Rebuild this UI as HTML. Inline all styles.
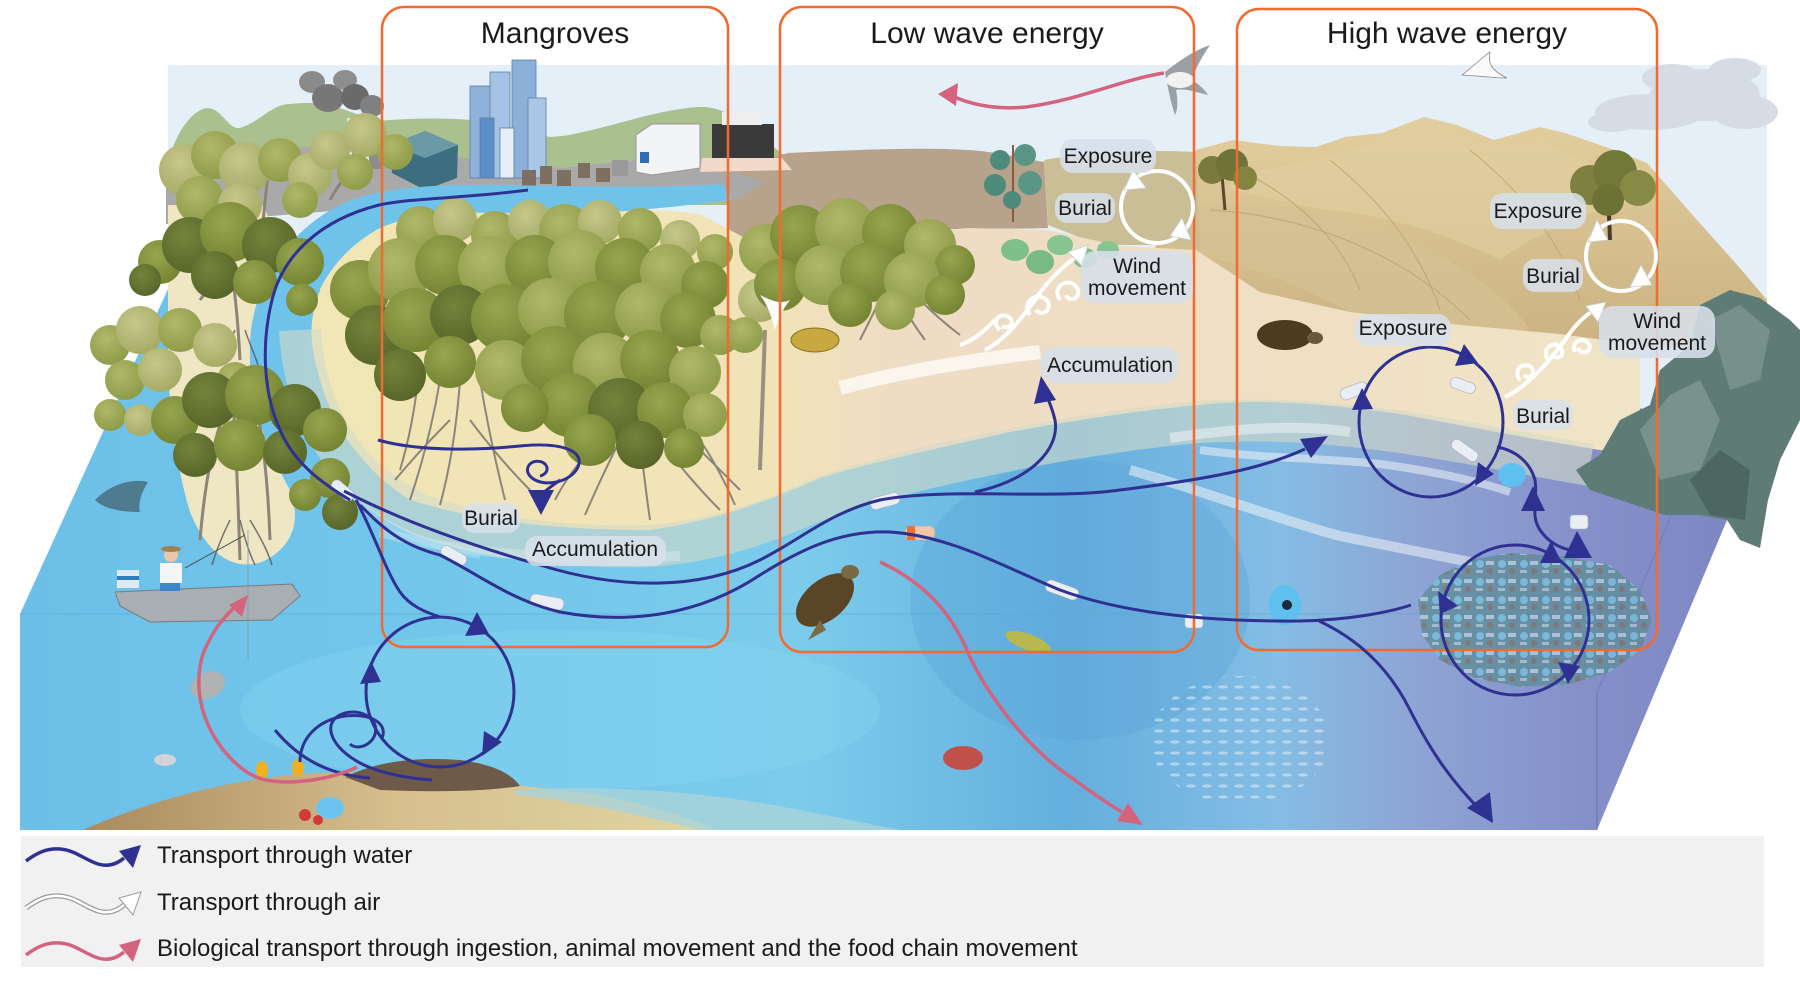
<!DOCTYPE html>
<html><head><meta charset="utf-8">
<style>
html,body{margin:0;padding:0;background:#fff;}
svg{display:block;}
text{font-family:"Liberation Sans",Arial,sans-serif;fill:#1a1a1a;}
</style></head><body>
<svg width="1800" height="986" viewBox="0 0 1800 986" xmlns="http://www.w3.org/2000/svg">
<defs>
 <linearGradient id="water" x1="20" y1="0" x2="1767" y2="0" gradientUnits="userSpaceOnUse">
  <stop offset="0" stop-color="#6cbfe8"/>
  <stop offset="0.3" stop-color="#74c8eb"/>
  <stop offset="0.45" stop-color="#7ccbeb"/>
  <stop offset="0.6" stop-color="#64afde"/>
  <stop offset="0.72" stop-color="#84bde4"/>
  <stop offset="0.8" stop-color="#8ea4d4"/>
  <stop offset="0.9" stop-color="#858fc8"/>
  <stop offset="1" stop-color="#7b86c2"/>
 </linearGradient>
 <linearGradient id="sand" x1="300" y1="0" x2="1640" y2="0" gradientUnits="userSpaceOnUse">
  <stop offset="0" stop-color="#f1e6b6"/>
  <stop offset="0.35" stop-color="#f1e3b8"/>
  <stop offset="0.45" stop-color="#eedcc4"/>
  <stop offset="0.7" stop-color="#efdfc4"/>
  <stop offset="1" stop-color="#f0e4c6"/>
 </linearGradient>
 <linearGradient id="mtn" x1="0" y1="110" x2="0" y2="340" gradientUnits="userSpaceOnUse">
  <stop offset="0" stop-color="#e3cf9f"/>
  <stop offset="1" stop-color="#cbb383"/>
 </linearGradient>
 <linearGradient id="seabed" x1="80" y1="0" x2="720" y2="0" gradientUnits="userSpaceOnUse">
  <stop offset="0" stop-color="#a88a5e"/>
  <stop offset="0.5" stop-color="#d7bf8e"/>
  <stop offset="1" stop-color="#e0d6a4"/>
 </linearGradient>
 <radialGradient id="g1" cx="0.4" cy="0.35" r="0.7"><stop offset="0" stop-color="#74843a"/><stop offset="1" stop-color="#566429"/></radialGradient>
 <radialGradient id="g2" cx="0.4" cy="0.35" r="0.7"><stop offset="0" stop-color="#98a650"/><stop offset="1" stop-color="#738230"/></radialGradient>
 <radialGradient id="g3" cx="0.4" cy="0.35" r="0.7"><stop offset="0" stop-color="#b0b86a"/><stop offset="1" stop-color="#8c9a46"/></radialGradient>
 <radialGradient id="g4" cx="0.4" cy="0.35" r="0.7"><stop offset="0" stop-color="#c6c88a"/><stop offset="1" stop-color="#a3a964"/></radialGradient>
 <pattern id="fishp" width="16" height="11" patternUnits="userSpaceOnUse">
  <ellipse cx="7" cy="5" rx="5" ry="1.6" fill="#d8e8f2"/>
 </pattern>
 <pattern id="junk" width="22" height="18" patternUnits="userSpaceOnUse">
  <rect width="22" height="18" fill="#5f8d9a"/>
  <circle cx="6" cy="6" r="4" fill="#78bfdc"/>
  <rect x="12" y="3" width="8" height="4" fill="#b8ccd6"/>
  <circle cx="16" cy="13" r="3" fill="#7d7066"/>
  <rect x="2" y="12" width="7" height="3" fill="#a9c2cc"/>
 </pattern>
</defs>

<rect width="1800" height="986" fill="#fff"/>

<!-- sky -->
<rect x="168" y="65" width="1599" height="420" fill="#e5eff8"/>
<!-- clouds -->
<g fill="#d6dce6">
 <ellipse cx="1650" cy="112" rx="55" ry="18"/>
 <ellipse cx="1705" cy="95" rx="55" ry="26"/>
 <ellipse cx="1745" cy="112" rx="33" ry="17"/>
 <ellipse cx="1672" cy="78" rx="30" ry="14"/>
 <ellipse cx="1735" cy="70" rx="26" ry="12"/>
 <ellipse cx="1612" cy="122" rx="24" ry="10"/>
</g>

<!-- hills -->
<path d="M168,165 C172,140 190,110 207,108 C222,108 228,130 240,128 C260,122 272,104 290,104 C310,102 325,103 340,108 C360,115 375,122 390,120 C420,118 450,118 470,120 C500,123 530,135 551,137 C590,135 650,110 698,107 C715,106 728,113 740,120 L790,160 L780,205 L168,205 Z" fill="#aac08e"/>

<!-- sand mountains -->
<path d="M1150,260 L1196,150 L1233,140 L1280,146 L1316,147 L1345,137 L1382,133 L1424,117 L1457,125 L1494,140 L1540,127 L1565,133 L1606,147 L1647,163 L1697,220 L1739,267 L1767,300 L1767,345 L1600,348 L1400,335 L1250,305 Z" fill="url(#mtn)"/>
<path d="M1230,175 C1300,165 1360,150 1424,125 C1460,140 1500,150 1540,140 C1580,160 1620,175 1650,200 C1600,205 1540,230 1500,260 C1440,230 1380,215 1330,210 C1290,205 1260,195 1230,190 Z" fill="#e2cfa0" opacity="0.55"/>
<path d="M1200,205 C1280,200 1360,215 1420,245 C1470,270 1510,300 1530,330 L1380,330 C1330,300 1270,270 1200,255 Z" fill="#d4c092" opacity="0.8"/>
<g stroke="#b89f70" stroke-width="1" fill="none" opacity="0.8">
 <path d="M1240,170 C1300,200 1340,240 1360,290"/>
 <path d="M1330,160 C1380,200 1420,250 1440,310"/>
 <path d="M1470,150 C1520,190 1560,240 1580,300"/>
 <path d="M1210,210 C1300,215 1400,250 1470,320"/>
</g>
<!-- high-wave trees -->
<g>
 <line x1="1225" y1="210" x2="1222" y2="175" stroke="#5a4630" stroke-width="3"/>
 <circle cx="1212" cy="170" r="14" fill="#7a7a3e"/><circle cx="1232" cy="165" r="16" fill="#6f7338"/><circle cx="1245" cy="178" r="12" fill="#82843f"/>
 <line x1="1610" y1="240" x2="1608" y2="190" stroke="#4a3828" stroke-width="4"/>
 <circle cx="1590" cy="185" r="20" fill="#7d8040"/><circle cx="1615" cy="172" r="22" fill="#727838"/><circle cx="1638" cy="188" r="18" fill="#878a45"/><circle cx="1608" cy="200" r="16" fill="#6c7134"/>
</g>

<!-- brown marsh -->
<path d="M730,168 L788,153 C850,150 920,147 968,150 C1000,152 1020,158 1044,162 L1048,228 C1000,230 960,226 900,233 C850,238 800,241 760,246 L728,230 Z" fill="#b7a38c"/>
<path d="M1044,160 C1100,150 1160,150 1196,152 L1200,245 L1100,245 L1048,225 Z" fill="#cabe96"/>

<!-- city ground -->
<path d="M166,165 C220,150 300,145 380,147 L480,160 L560,168 L640,160 L720,168 L765,182 L740,198 C700,202 640,210 560,216 C500,213 440,206 380,207 C320,212 260,217 166,224 Z" fill="#a9a9a9"/>
<!-- smoke & factory -->
<g fill="#777">
 <ellipse cx="312" cy="82" rx="13" ry="11" fill="#8a8a8a"/>
 <ellipse cx="328" cy="98" rx="16" ry="14"/>
 <ellipse cx="345" cy="80" rx="12" ry="10" fill="#8e8e8e"/>
 <ellipse cx="355" cy="97" rx="14" ry="13" fill="#6a6a6a"/>
 <ellipse cx="372" cy="106" rx="12" ry="11" fill="#808080"/>
</g>
<rect x="319" y="147" width="62" height="22" fill="#8d8d8d"/>
<rect x="347" y="118" width="5" height="48" fill="#e4e4e4"/>
<rect x="364" y="122" width="5" height="44" fill="#e4e4e4"/>
<!-- teal building -->
<polygon points="390,145 425,131 458,145 457,178 425,190 392,173" fill="#3c6e80"/>
<polygon points="390,145 425,131 458,145 425,158" fill="#6a9aa6"/>
<!-- skyscrapers -->
<g stroke="#5c7ea6" stroke-width="0.8">
 <rect x="470" y="86" width="22" height="92" fill="#8fb2da"/>
 <rect x="490" y="72" width="20" height="106" fill="#a4c2e4"/>
 <rect x="512" y="60" width="24" height="118" fill="#8cb0da"/>
 <rect x="528" y="98" width="18" height="80" fill="#aac6e6"/>
 <rect x="500" y="128" width="14" height="50" fill="#e8eef5"/>
 <rect x="480" y="118" width="14" height="60" fill="#5d8ec8"/>
</g>
<!-- houses -->
<g fill="#7e6f63">
 <rect x="522" y="170" width="14" height="16"/><rect x="540" y="166" width="12" height="18"/>
 <rect x="557" y="170" width="14" height="16"/><rect x="578" y="163" width="12" height="15"/>
 <rect x="596" y="168" width="14" height="14"/><rect x="612" y="160" width="16" height="16" fill="#9a9a9a"/>
</g>
<!-- parking building -->
<polygon points="636,135 652,124 700,124 700,168 652,175 636,172" fill="#f2f4f6" stroke="#999" stroke-width="1"/>
<rect x="640" y="152" width="9" height="11" fill="#2e6db4"/>
<!-- restaurant -->
<rect x="712" y="124" width="62" height="34" fill="#3a3a3a"/>
<rect x="722" y="112" width="40" height="13" fill="#eeeeee"/>
<polygon points="702,158 782,158 792,170 700,172" fill="#f2d9ca"/>

<!-- water block -->
<path d="M20,614 L168,289 L330,290 L330,400 L1600,400 L1745,430 L1727,520 L1597,830 L20,830 Z" fill="url(#water)"/>
<ellipse cx="560" cy="710" rx="320" ry="80" fill="#8ad6f0" opacity="0.35"/>
<ellipse cx="1080" cy="600" rx="170" ry="140" fill="#5aa2d6" opacity="0.35"/>
<line x1="20" y1="614" x2="1640" y2="614" stroke="#5aa6d2" stroke-width="1" opacity="0.6"/>
<line x1="1597" y1="693" x2="1597" y2="830" stroke="#5c66a8" stroke-width="1" opacity="0.7"/>
<line x1="1597" y1="693" x2="1672" y2="513" stroke="#6a74b0" stroke-width="1" opacity="0.6"/>

<!-- seabed -->
<path d="M83,830 C150,800 230,780 300,774 C360,770 420,774 470,780 C520,786 560,790 600,795 C650,805 690,818 717,830 Z" fill="url(#seabed)"/>
<path d="M515,790 C600,785 700,790 800,810 C850,820 880,826 900,830 L700,830 C640,815 570,800 515,795 Z" fill="#a9d3da" opacity="0.8"/>
<path d="M345,777 C380,760 420,757 460,760 C490,764 510,772 520,786 C480,792 430,792 380,790 Z" fill="#6e5a48"/>

<!-- sand beach (island + beach) -->
<path d="M400,212 C450,206 520,212 560,216 C600,213 640,206 700,214 L760,246 L853,238 L968,228 L1048,230 L1120,246 L1196,250 L1260,292 L1350,312 L1450,324 L1560,334 L1640,345 L1640,455 L1600,450 C1520,437 1460,425 1400,414 C1330,404 1260,398 1200,405 C1120,412 1050,425 1010,432 C950,446 880,460 820,478 C770,500 720,520 650,530 C560,530 480,522 410,500 C360,468 325,420 313,350 C305,300 330,250 400,212 Z" fill="url(#sand)"/>
<!-- left sand lobe -->
<path d="M168,205 L262,205 C282,232 262,272 254,330 C250,390 262,440 290,490 C302,522 292,548 262,562 C232,572 206,552 190,512 C175,462 168,402 168,350 Z" fill="#efe6c4"/>
<!-- river -->
<path d="M722,184 C640,190 520,184 470,185 C420,185 370,190 338,206 C288,232 254,282 250,340 C248,400 264,452 300,502 L348,502 C316,452 302,400 306,342 C310,292 336,252 380,228 C420,210 480,212 540,214 C620,214 680,206 732,200 Z" fill="#6fc3ea"/>
<!-- wet band -->
<path d="M300,330 C305,420 350,482 420,515 C490,540 570,548 650,546 C730,540 780,515 830,495 C890,475 950,462 1010,450 C1080,436 1150,426 1200,422 C1270,418 1330,422 1400,432 C1470,442 1530,455 1590,465" fill="none" stroke="#d3dbc8" stroke-width="42" opacity="0.6"/>
<path d="M840,388 C900,372 960,362 1040,352" fill="none" stroke="#ffffff" stroke-width="14" opacity="0.7"/>
<!-- surf streaks -->
<g fill="none" stroke="#eef3f6" opacity="0.55">
 <path d="M1130,470 C1200,490 1280,520 1340,536 C1400,548 1440,556 1470,562" stroke-width="10"/>
 <path d="M1200,450 C1260,458 1320,458 1380,464 C1440,472 1480,482 1510,492" stroke-width="8"/>
 <path d="M1170,438 C1240,428 1300,424 1350,432" stroke-width="10"/>
 <path d="M380,532 C450,552 560,562 680,556" stroke-width="10" opacity="0.6"/>
 <path d="M330,470 C360,520 420,545 480,555" stroke-width="8" opacity="0.5"/>
</g>

<!-- rocks -->
<path d="M1576,470 L1600,455 L1620,420 L1650,405 L1660,370 L1690,345 L1700,305 L1730,290 L1760,298 L1790,320 L1800,330 L1800,420 L1780,460 L1768,500 L1760,548 L1740,540 L1727,520 L1700,515 L1665,515 L1620,500 L1590,490 Z" fill="#5f7b76"/>
<path d="M1640,430 L1670,395 L1700,380 L1720,420 L1700,470 L1660,480 Z" fill="#7a928d"/>
<path d="M1710,320 L1740,305 L1770,330 L1760,380 L1730,390 Z" fill="#78908b"/>
<path d="M1690,480 L1720,450 L1750,470 L1745,520 L1710,515 Z" fill="#4c6661"/>

<!-- beach plants / eucalyptus -->
<g>
 <line x1="1013" y1="222" x2="1013" y2="145" stroke="#8a5a3a" stroke-width="2"/>
 <circle cx="1000" cy="160" r="10" fill="#4f8b7d"/><circle cx="1025" cy="155" r="11" fill="#5a9585"/>
 <circle cx="995" cy="185" r="11" fill="#4f8b7d"/><circle cx="1030" cy="183" r="12" fill="#5a9585"/>
 <circle cx="1012" cy="200" r="9" fill="#4f8b7d"/>
 <ellipse cx="1015" cy="250" rx="14" ry="11" fill="#7fbf8c"/><ellipse cx="1040" cy="262" rx="14" ry="12" fill="#79b986"/>
 <ellipse cx="1060" cy="245" rx="13" ry="10" fill="#86c492"/><ellipse cx="1085" cy="258" rx="12" ry="10" fill="#7fbf8c"/>
 <ellipse cx="1108" cy="250" rx="11" ry="9" fill="#86c492"/>
</g>

<!-- left column trees -->
<g stroke="#8c8478" stroke-width="3" fill="none">
 <path d="M240,560 C238,500 236,440 232,390"/><path d="M270,540 C268,480 262,430 255,400"/>
 <path d="M200,540 C205,480 215,430 230,400"/><path d="M240,360 C238,320 235,290 230,260"/>
 <path d="M200,300 C215,280 225,265 230,250"/><path d="M265,280 C258,265 250,255 240,245"/>
 <path d="M330,200 C340,180 360,160 370,140"/><path d="M260,260 C262,230 265,200 268,175"/>
</g>
<g stroke="#555" stroke-width="1.5" fill="none" opacity="0.8">
 <path d="M230,520 C220,540 215,555 212,565"/><path d="M240,520 C245,540 250,555 255,565"/>
 <path d="M250,520 C262,540 268,552 272,565"/><path d="M235,330 C228,345 225,355 222,365"/>
 <path d="M245,330 C250,345 255,355 258,365"/>
</g>
<g>
 <circle cx="185" cy="170" r="26" fill="url(#g4)"/><circle cx="215" cy="155" r="24" fill="url(#g3)"/>
 <circle cx="245" cy="168" r="26" fill="url(#g4)"/><circle cx="280" cy="160" r="22" fill="url(#g3)"/>
 <circle cx="310" cy="175" r="22" fill="url(#g4)"/><circle cx="200" cy="200" r="24" fill="url(#g3)"/>
 <circle cx="240" cy="205" r="22" fill="url(#g4)"/><circle cx="330" cy="150" r="20" fill="url(#g4)"/>
 <circle cx="365" cy="135" r="22" fill="url(#g4)"/><circle cx="395" cy="152" r="18" fill="url(#g3)"/>
 <circle cx="355" cy="172" r="18" fill="url(#g3)"/><circle cx="300" cy="200" r="18" fill="url(#g3)"/>

 <circle cx="160" cy="262" r="22" fill="url(#g2)"/><circle cx="190" cy="245" r="28" fill="url(#g1)"/>
 <circle cx="230" cy="232" r="30" fill="url(#g2)"/><circle cx="270" cy="245" r="28" fill="url(#g1)"/>
 <circle cx="300" cy="262" r="24" fill="url(#g2)"/><circle cx="215" cy="275" r="24" fill="url(#g1)"/>
 <circle cx="255" cy="282" r="22" fill="url(#g2)"/><circle cx="145" cy="280" r="16" fill="url(#g1)"/>
 <circle cx="302" cy="300" r="16" fill="url(#g2)"/>

 <circle cx="110" cy="345" r="20" fill="url(#g3)"/><circle cx="140" cy="330" r="24" fill="url(#g4)"/>
 <circle cx="180" cy="330" r="22" fill="url(#g3)"/><circle cx="215" cy="345" r="22" fill="url(#g4)"/>
 <circle cx="125" cy="380" r="20" fill="url(#g3)"/><circle cx="160" cy="370" r="22" fill="url(#g4)"/>
 <circle cx="110" cy="415" r="16" fill="url(#g3)"/><circle cx="140" cy="420" r="16" fill="url(#g4)"/>
 <circle cx="235" cy="380" r="18" fill="url(#g3)"/>

 <circle cx="175" cy="420" r="24" fill="url(#g2)"/><circle cx="210" cy="400" r="28" fill="url(#g1)"/>
 <circle cx="255" cy="395" r="30" fill="url(#g2)"/><circle cx="295" cy="410" r="26" fill="url(#g1)"/>
 <circle cx="325" cy="430" r="22" fill="url(#g2)"/><circle cx="195" cy="455" r="22" fill="url(#g1)"/>
 <circle cx="240" cy="445" r="26" fill="url(#g2)"/><circle cx="285" cy="452" r="22" fill="url(#g1)"/>
 <circle cx="330" cy="478" r="20" fill="url(#g2)"/><circle cx="340" cy="512" r="18" fill="url(#g1)"/>
 <circle cx="305" cy="495" r="16" fill="url(#g2)"/>
</g>

<!-- central mangrove roots/trunks -->
<g stroke="#7a7570" stroke-width="2" fill="none" opacity="0.85">
 <path d="M440,380 Q430,440 410,500"/><path d="M460,380 Q455,450 440,505"/><path d="M480,380 Q490,440 505,500"/>
 <path d="M450,420 Q420,450 395,480"/><path d="M470,420 Q500,460 530,490"/><path d="M420,360 Q415,420 400,470"/>
 <path d="M620,440 Q600,480 585,515"/><path d="M640,440 Q645,485 650,520"/><path d="M660,440 Q690,480 720,510"/>
 <path d="M680,430 Q710,460 740,490"/><path d="M600,440 Q570,470 555,500"/><path d="M700,440 Q720,470 735,505"/>
 <path d="M880,300 Q870,320 860,340"/><path d="M900,300 Q910,320 925,340"/><path d="M920,300 Q940,320 960,335"/>
</g>
<g>
 <circle cx="420" cy="230" r="24" fill="url(#g3)"/><circle cx="455" cy="220" r="22" fill="url(#g4)"/>
 <circle cx="495" cy="235" r="24" fill="url(#g3)"/><circle cx="530" cy="222" r="22" fill="url(#g4)"/>
 <circle cx="565" cy="230" r="26" fill="url(#g3)"/><circle cx="600" cy="222" r="22" fill="url(#g4)"/>
 <circle cx="640" cy="230" r="22" fill="url(#g3)"/><circle cx="680" cy="240" r="20" fill="url(#g4)"/>
 <circle cx="715" cy="252" r="18" fill="url(#g3)"/>

 <circle cx="360" cy="290" r="30" fill="url(#g2)"/><circle cx="400" cy="270" r="32" fill="url(#g3)"/>
 <circle cx="445" cy="265" r="30" fill="url(#g2)"/><circle cx="490" cy="268" r="32" fill="url(#g3)"/>
 <circle cx="535" cy="265" r="30" fill="url(#g2)"/><circle cx="580" cy="262" r="32" fill="url(#g3)"/>
 <circle cx="625" cy="268" r="30" fill="url(#g2)"/><circle cx="668" cy="272" r="28" fill="url(#g3)"/>
 <circle cx="705" cy="285" r="24" fill="url(#g2)"/>

 <circle cx="375" cy="335" r="30" fill="url(#g1)"/><circle cx="415" cy="320" r="32" fill="url(#g2)"/>
 <circle cx="460" cy="315" r="30" fill="url(#g1)"/><circle cx="505" cy="318" r="34" fill="url(#g2)"/>
 <circle cx="550" cy="310" r="32" fill="url(#g3)"/><circle cx="598" cy="315" r="34" fill="url(#g2)"/>
 <circle cx="645" cy="312" r="30" fill="url(#g3)"/><circle cx="688" cy="320" r="28" fill="url(#g2)"/>
 <circle cx="720" cy="335" r="20" fill="url(#g3)"/>

 <circle cx="400" cy="375" r="26" fill="url(#g1)"/><circle cx="450" cy="362" r="26" fill="url(#g2)"/>
 <circle cx="505" cy="370" r="30" fill="url(#g3)"/><circle cx="555" cy="360" r="34" fill="url(#g2)"/>
 <circle cx="605" cy="365" r="32" fill="url(#g3)"/><circle cx="650" cy="360" r="30" fill="url(#g2)"/>
 <circle cx="695" cy="372" r="26" fill="url(#g3)"/><circle cx="570" cy="405" r="32" fill="url(#g2)"/>
 <circle cx="620" cy="410" r="32" fill="url(#g1)"/><circle cx="665" cy="410" r="28" fill="url(#g2)"/>
 <circle cx="705" cy="415" r="22" fill="url(#g3)"/><circle cx="525" cy="408" r="24" fill="url(#g2)"/>
 <circle cx="590" cy="440" r="26" fill="url(#g2)"/><circle cx="640" cy="445" r="24" fill="url(#g1)"/>
 <circle cx="684" cy="448" r="20" fill="url(#g2)"/>

 <circle cx="760" cy="300" r="22" fill="url(#g4)"/><circle cx="745" cy="335" r="18" fill="url(#g3)"/>
 <circle cx="765" cy="250" r="26" fill="url(#g3)"/><circle cx="800" cy="235" r="30" fill="url(#g2)"/>
 <circle cx="845" cy="228" r="30" fill="url(#g3)"/><circle cx="890" cy="232" r="28" fill="url(#g2)"/>
 <circle cx="930" cy="245" r="26" fill="url(#g3)"/><circle cx="955" cy="265" r="20" fill="url(#g2)"/>
 <circle cx="780" cy="285" r="26" fill="url(#g2)"/><circle cx="825" cy="275" r="30" fill="url(#g3)"/>
 <circle cx="870" cy="272" r="30" fill="url(#g2)"/><circle cx="912" cy="280" r="28" fill="url(#g3)"/>
 <circle cx="945" cy="295" r="20" fill="url(#g2)"/><circle cx="850" cy="305" r="22" fill="url(#g2)"/>
 <circle cx="895" cy="310" r="20" fill="url(#g3)"/>
</g>
<line x1="760" y1="470" x2="765" y2="330" stroke="#9a8f80" stroke-width="4"/>
<ellipse cx="815" cy="340" rx="24" ry="12" fill="#c8a840" stroke="#8a7020" stroke-width="1"/>

<!-- animals & objects -->
<path d="M1165,72 C1180,60 1195,50 1210,45 C1200,60 1195,70 1192,80 C1200,85 1205,90 1208,95 C1196,92 1185,88 1176,90 C1178,100 1178,110 1175,115 C1170,100 1168,88 1165,72 Z" fill="#9aa0a6"/>
<ellipse cx="1180" cy="80" rx="14" ry="8" fill="#f2f2f2"/>
<path d="M1462,75 C1475,65 1485,55 1490,52 C1488,62 1490,70 1507,78 C1495,78 1480,76 1462,75 Z" fill="#fafafa" stroke="#888" stroke-width="0.8"/>
<path d="M760,295 C770,300 780,305 790,300 C782,310 778,320 775,330 C772,318 768,305 760,295 Z" fill="#fff"/>
<ellipse cx="1285" cy="335" rx="28" ry="15" fill="#4b3b1f"/>
<ellipse cx="1315" cy="338" rx="8" ry="6" fill="#6b5a3a"/>
<ellipse cx="825" cy="600" rx="34" ry="20" transform="rotate(-40 825 600)" fill="#5a4526"/>
<ellipse cx="850" cy="572" rx="9" ry="7" fill="#7a6a44"/>
<path d="M820,620 L808,640 L826,630 Z" fill="#7a6a44"/>
<polygon points="115,592 292,584 300,596 272,620 150,622 120,606" fill="#a9aeb3" stroke="#767b80" stroke-width="1"/>
<rect x="117" y="570" width="22" height="18" fill="#e2e8ef"/>
<rect x="117" y="576" width="22" height="4" fill="#2e7dc0"/>
<rect x="160" y="563" width="22" height="20" fill="#f5f5f5"/>
<circle cx="171" cy="555" r="7" fill="#e8c8a8"/>
<ellipse cx="171" cy="549" rx="10" ry="3" fill="#a08050"/>
<rect x="160" y="583" width="20" height="8" fill="#3b86c6"/>
<line x1="185" y1="568" x2="245" y2="535" stroke="#555" stroke-width="1"/>
<line x1="248" y1="530" x2="248" y2="660" stroke="#8899aa" stroke-width="0.8"/>
<path d="M95,500 C110,485 130,478 148,482 C140,495 138,505 140,512 C125,512 105,510 95,500 Z" fill="#4f7b8f"/>
<ellipse cx="208" cy="685" rx="18" ry="13" transform="rotate(-25 208 685)" fill="#b0b2b4"/>
<ellipse cx="165" cy="760" rx="11" ry="6" fill="#d0d4d6"/>
<ellipse cx="1028" cy="642" rx="24" ry="8" transform="rotate(20 1028 642)" fill="#b8b850"/>
<ellipse cx="963" cy="758" rx="20" ry="12" fill="#c0504a"/>
<!-- fish school -->
<ellipse cx="1240" cy="740" rx="90" ry="64" fill="url(#fishp)" opacity="0.6"/>
<!-- garbage patch -->
<path d="M1418,600 L1440,575 L1470,560 L1510,553 L1560,556 L1610,565 L1640,590 L1652,620 L1640,650 L1610,672 L1570,684 L1520,687 L1475,678 L1440,660 L1422,635 Z" fill="url(#junk)" opacity="0.8"/>
<ellipse cx="1285" cy="605" rx="16" ry="20" fill="#5ec0ee"/>
<circle cx="1287" cy="605" r="5" fill="#1a2a3a"/>
<ellipse cx="1512" cy="475" rx="14" ry="12" fill="#5ec0ee"/>
<ellipse cx="330" cy="808" rx="14" ry="11" fill="#6cc4ee"/>
<circle cx="305" cy="815" r="6" fill="#d23a3a"/>
<circle cx="318" cy="820" r="5" fill="#d23a3a"/>
<ellipse cx="262" cy="770" rx="6" ry="9" fill="#f0b020"/>
<ellipse cx="298" cy="768" rx="6" ry="9" fill="#f0b020"/>
<g fill="#e8eef4" stroke="#aab" stroke-width="0.6">
 <rect x="530" y="596" width="34" height="12" rx="5" transform="rotate(10 547 602)"/>
 <rect x="440" y="550" width="28" height="11" rx="5" transform="rotate(30 454 555)"/>
 <rect x="330" y="485" width="26" height="11" rx="5" transform="rotate(40 343 490)"/>
 <rect x="870" y="495" width="30" height="12" rx="5" transform="rotate(-15 885 501)"/>
 <rect x="905" y="526" width="30" height="14" rx="6" fill="#f0c8a8"/>
 <rect x="1045" y="584" width="34" height="12" rx="5" transform="rotate(20 1062 590)"/>
 <rect x="1185" y="614" width="18" height="14" rx="3"/>
 <rect x="1340" y="385" width="28" height="12" rx="5" transform="rotate(-20 1354 391)"/>
 <rect x="1450" y="445" width="30" height="11" rx="5" transform="rotate(35 1465 450)"/>
 <rect x="1570" y="515" width="18" height="14" rx="3"/>
 <rect x="1450" y="380" width="26" height="11" rx="5" transform="rotate(20 1463 385)"/>
</g>
<rect x="907" y="526" width="8" height="14" fill="#f07030"/>

<!-- orange boxes -->
<g fill="none" stroke="#f26a2e" stroke-width="2.5">
 <rect x="382" y="7" width="346" height="640" rx="22"/>
 <rect x="780" y="7" width="414" height="645" rx="22"/>
 <rect x="1237" y="9" width="420" height="641" rx="22"/>
</g>

<!-- navy water transport paths -->
<g fill="none" stroke="#2e3192" stroke-width="3">
 <path d="M528,190 C470,198 410,198 379,205 C320,220 283,255 272,300 C262,340 262,390 280,430 C295,465 325,485 350,500"/>
 <path d="M344,491 C400,520 470,545 540,565 C620,590 700,590 760,560 C800,540 830,512 880,500 C950,487 1050,500 1120,490 C1200,480 1260,470 1305,449"/>
 <path d="M360,505 C380,525 400,545 440,555 C480,575 510,600 560,612 C630,625 700,615 760,575 C800,550 840,530 890,532 C950,536 1000,565 1060,590 C1120,612 1200,622 1300,621 C1350,620 1390,612 1411,605"/>
 <path d="M356,500 C375,535 385,570 400,592 C410,606 425,612 440,617"/>
 <ellipse cx="440" cy="692" rx="74" ry="75"/>
 <path d="M432,780 C400,778 370,770 355,760 C330,745 322,722 342,714 C365,706 384,724 372,740 C364,749 354,748 350,744"/>
 <path d="M300,762 C300,738 318,720 345,716 C372,713 388,724 382,738"/>
 <path d="M275,730 C300,760 330,775 370,778"/>
 <path d="M378,440 C420,452 480,450 520,446 C560,442 585,450 578,467 C571,482 545,488 532,478 C522,470 530,458 542,462 C550,466 548,474 540,476"/>
 <path d="M560,480 C552,486 546,490 542,494"/>
 <path d="M975,492 C1030,480 1060,450 1055,420 C1052,408 1048,398 1044,392"/>
 <ellipse cx="1431" cy="422" rx="72" ry="75"/>
 <path d="M1497,447 C1515,450 1530,462 1535,480 C1538,500 1530,515 1540,530 C1548,542 1560,548 1570,550"/>
 <ellipse cx="1515" cy="620" rx="74" ry="75"/>
 <path d="M1319,621 C1360,640 1390,670 1410,710 C1430,750 1450,780 1485,815"/>
</g>
<g fill="#2e3192">
 <polygon points="1328,436 1311,458 1300,439"/>
 <polygon points="1041,376 1056,400 1034,404"/>
 <polygon points="541,515 528,490 554,490"/>
 <polygon points="477,612 465,636 489,634"/>
 <polygon points="371,661 360,684 381,682"/>
 <polygon points="482,756 484,731 502,742"/>
 <polygon points="1464,344 1455,366 1478,363"/>
 <polygon points="1362,388 1352,410 1373,409"/>
 <polygon points="1475,486 1478,462 1494,474"/>
 <polygon points="1533,486 1521,511 1545,511"/>
 <polygon points="1551,541 1540,563 1562,563"/>
 <polygon points="1577,531 1564,558 1592,558"/>
 <polygon points="1438,591 1440,614 1458,606"/>
 <polygon points="1568,684 1558,662 1580,666"/>
 <polygon points="1493,823 1467,808 1490,792"/>
</g>

<!-- pink biological paths -->
<g fill="none" stroke="#d4637e" stroke-width="3.5">
 <path d="M1164,73 C1120,80 1080,100 1026,107 C995,110 970,104 952,96"/>
 <path d="M880,562 C930,585 955,620 969,655 C990,700 1030,750 1072,778 C1095,795 1110,805 1122,812"/>
 <path d="M357,767 C330,780 290,785 266,780 C240,775 215,745 205,717 C195,690 198,660 208,643 C215,628 225,616 235,607"/>
</g>
<g fill="#d4637e">
 <polygon points="938,94 958,83 956,106"/>
 <polygon points="1143,825 1117,821 1128,803"/>
 <polygon points="248,595 229,605 242,617"/>
</g>

<!-- white air transport -->
<g fill="none" stroke="#ffffff" stroke-width="4">
 <circle cx="1157" cy="207" r="36"/>
 <circle cx="1621" cy="256" r="35"/>
 <path d="M985,350 C1005,340 1020,320 1035,300 C1045,285 1058,270 1075,258"/>
 <path d="M1000,330 C990,322 1000,310 1010,318 C1015,324 1008,330 1002,326"/>
 <path d="M1030,315 C1020,300 1040,290 1048,302 C1052,312 1040,316 1036,310"/>
 <path d="M1060,300 C1050,285 1072,275 1078,290 C1080,300 1068,302 1066,295"/>
 <path d="M960,345 C975,340 985,330 995,320"/>
 <path d="M1505,397 C1530,385 1550,360 1565,340 C1575,325 1585,315 1595,310"/>
 <path d="M1520,380 C1512,370 1524,360 1532,368 C1536,375 1528,380 1524,375"/>
 <path d="M1548,360 C1540,348 1556,338 1562,350 C1564,358 1554,360 1552,354"/>
 <path d="M1575,352 C1570,342 1584,334 1590,346 C1590,354 1580,354 1578,348"/>
</g>
<g fill="#ffffff" stroke="#cccccc" stroke-width="0.8">
 <polygon points="1133,170 1124,190 1146,188"/>
 <polygon points="1191,240 1170,236 1182,218"/>
 <polygon points="1088,245 1068,252 1082,266"/>
 <polygon points="1597,220 1588,242 1608,240"/>
 <polygon points="1641,265 1630,287 1652,285"/>
 <polygon points="1606,302 1586,306 1598,322"/>
</g>

<!-- label pills -->
<g fill="#d8e0ea" opacity="0.88">
 <rect x="1060" y="139" width="96" height="34" rx="13"/>
 <rect x="1055" y="193" width="60" height="30" rx="12"/>
 <rect x="1081" y="251" width="112" height="52" rx="14"/>
 <rect x="1041" y="347" width="138" height="36" rx="14"/>
 <rect x="1490" y="193" width="96" height="36" rx="13"/>
 <rect x="1523" y="259" width="60" height="33" rx="12"/>
 <rect x="1599" y="306" width="116" height="52" rx="14"/>
 <rect x="1355" y="314" width="96" height="32" rx="13"/>
 <rect x="1513" y="400" width="60" height="30" rx="12"/>
 <rect x="462" y="503" width="58" height="30" rx="12"/>
 <rect x="525" y="536" width="141" height="30" rx="12"/>
</g>
<g font-size="21" text-anchor="middle">
 <text x="1108" y="163">Exposure</text>
 <text x="1085" y="215">Burial</text>
 <text x="1137" y="273">Wind</text>
 <text x="1137" y="295">movement</text>
 <text x="1110" y="372">Accumulation</text>
 <text x="1538" y="218">Exposure</text>
 <text x="1553" y="283">Burial</text>
 <text x="1657" y="328">Wind</text>
 <text x="1657" y="350">movement</text>
 <text x="1403" y="335">Exposure</text>
 <text x="1543" y="423">Burial</text>
 <text x="491" y="525">Burial</text>
 <text x="595" y="556">Accumulation</text>
</g>

<!-- titles -->
<g font-size="30" text-anchor="middle">
 <text x="555" y="43">Mangroves</text>
 <text x="987" y="43">Low wave energy</text>
 <text x="1447" y="43">High wave energy</text>
</g>

<!-- legend -->
<rect x="21" y="836" width="1743" height="131" fill="#f1f1f1"/>
<path d="M26,861 C38,852 48,848 60,849 C75,850 85,860 98,864 C108,867 117,864 124,858" fill="none" stroke="#2e3192" stroke-width="3.5"/>
<polygon points="141,845 119,851 133,868" fill="#2e3192"/>
<path d="M26,908 C38,899 48,895 60,896 C75,897 85,907 98,911 C108,914 117,911 124,905" fill="none" stroke="#9a9a9a" stroke-width="5"/>
<path d="M26,908 C38,899 48,895 60,896 C75,897 85,907 98,911 C108,914 117,911 124,905" fill="none" stroke="#ffffff" stroke-width="2.5"/>
<polygon points="141,892 119,898 133,915" fill="#ffffff" stroke="#9a9a9a" stroke-width="1"/>
<path d="M26,955 C38,946 48,942 60,943 C75,944 85,954 98,958 C108,961 117,958 124,952" fill="none" stroke="#d4637e" stroke-width="3.5"/>
<polygon points="141,939 119,945 133,962" fill="#d4637e"/>
<g font-size="24">
 <text x="157" y="863">Transport through water</text>
 <text x="157" y="910">Transport through air</text>
 <text x="157" y="956">Biological transport through ingestion, animal movement and the food chain movement</text>
</g>
</svg>
</body></html>
